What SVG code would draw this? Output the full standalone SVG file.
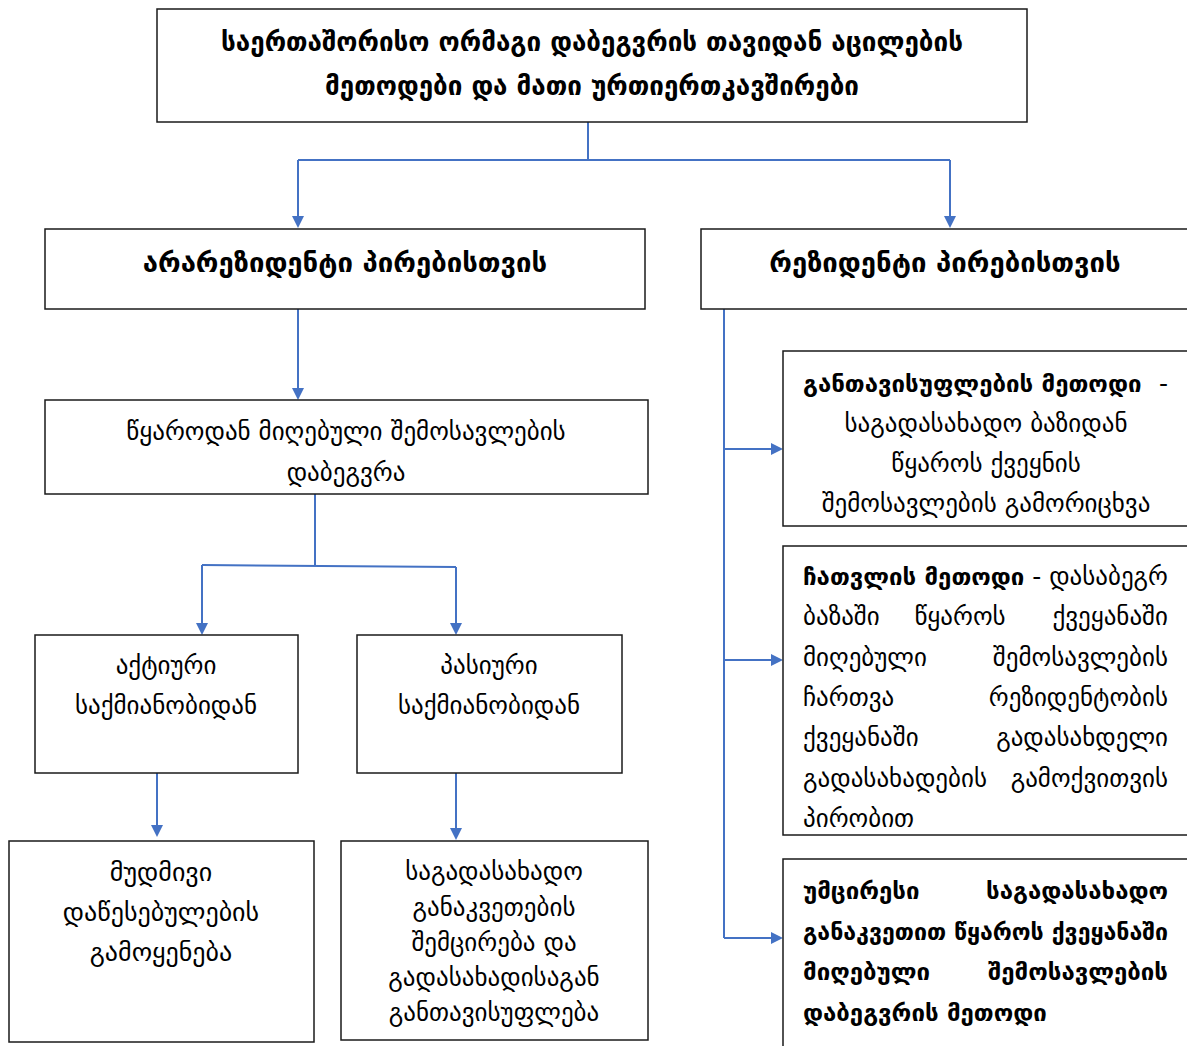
<svg xmlns="http://www.w3.org/2000/svg" width="1187" height="1046" viewBox="0 0 1187 1046">
<style>
.box{fill:#fff;stroke:#1a1a1a;stroke-width:1.5}
.t{font-family:"DejaVu Sans",sans-serif;font-size:25px;fill:#000}
.b{font-weight:bold}
.c{text-anchor:middle}
.r{text-anchor:end}
.h{font-size:27.5px}
.tt{font-size:26px}
.rb{font-size:24px}
.ln{fill:none;stroke:#4472C4;stroke-width:2}
</style>
<defs>
<marker id="ah" markerWidth="12" markerHeight="12" refX="10" refY="6" orient="auto" markerUnits="userSpaceOnUse">
<path d="M0,0 L12,6 L0,12 z" fill="#4472C4"/>
</marker>
</defs>
<rect width="1187" height="1046" fill="#fff"/>
<g id="connectors">
<polyline class="ln" points="588,122 588,160"/>
<polyline class="ln" points="298,160 950,160"/>
<polyline class="ln" points="298,160 298,226" marker-end="url(#ah)"/>
<polyline class="ln" points="950,160 950,226" marker-end="url(#ah)"/>
<polyline class="ln" points="298,309 298,398" marker-end="url(#ah)"/>
<polyline class="ln" points="315,494 315,565"/>
<polyline class="ln" points="202,565 456,567"/>
<polyline class="ln" points="202,565 202,633" marker-end="url(#ah)"/>
<polyline class="ln" points="456,567 456,633" marker-end="url(#ah)"/>
<polyline class="ln" points="157,773 157,835" marker-end="url(#ah)"/>
<polyline class="ln" points="456,773 456,838" marker-end="url(#ah)"/>
<polyline class="ln" points="724,309 724,938"/>
<polyline class="ln" points="724,449 781,449" marker-end="url(#ah)"/>
<polyline class="ln" points="724,660 781,660" marker-end="url(#ah)"/>
<polyline class="ln" points="724,938 781,938" marker-end="url(#ah)"/>
</g>
<g id="title">
<rect class="box" x="157" y="9" width="870" height="113"/>
<text class="t tt b c" x="592" y="51">საერთაშორისო ორმაგი დაბეგვრის თავიდან აცილების</text>
<text class="t tt b c" x="592" y="95">მეთოდები და მათი ურთიერთკავშირები</text>
</g>
<g id="nonresident">
<rect class="box" x="45" y="229" width="600" height="80"/>
<text class="t h b c" x="345" y="272">არარეზიდენტი პირებისთვის</text>
</g>
<g id="resident">
<rect class="box" x="701" y="229" width="490" height="80"/>
<text class="t h b c" x="945" y="272">რეზიდენტი პირებისთვის</text>
</g>
<g id="source">
<rect class="box" x="45" y="400" width="603" height="94"/>
<text class="t c" x="346" y="440">წყაროდან მიღებული შემოსავლების</text>
<text class="t c" x="346" y="481">დაბეგვრა</text>
</g>
<g id="active">
<rect class="box" x="35" y="635" width="263" height="138"/>
<text class="t c" x="166" y="674">აქტიური</text>
<text class="t c" x="166" y="714">საქმიანობიდან</text>
</g>
<g id="passive">
<rect class="box" x="357" y="635" width="265" height="138"/>
<text class="t c" x="489" y="674">პასიური</text>
<text class="t c" x="489" y="714">საქმიანობიდან</text>
</g>
<g id="permanent">
<rect class="box" x="9" y="841" width="305" height="201"/>
<text class="t tt c" x="161" y="881">მუდმივი</text>
<text class="t tt c" x="161" y="921">დაწესებულების</text>
<text class="t tt c" x="161" y="961">გამოყენება</text>
</g>
<g id="rates">
<rect class="box" x="341" y="841" width="307" height="199"/>
<text class="t c" x="494" y="880">საგადასახადო</text>
<text class="t c" x="494" y="916">განაკვეთების</text>
<text class="t c" x="494" y="951">შემცირება და</text>
<text class="t c" x="494" y="986">გადასახადისაგან</text>
<text class="t c" x="494" y="1021">განთავისუფლება</text>
</g>
<g id="exemption">
<rect class="box" x="783" y="351" width="410" height="175"/>
<text class="t rb b" x="803" y="392">განთავისუფლების მეთოდი</text>
<text class="t r" x="1168" y="392">-</text>
<text class="t c" x="986" y="432">საგადასახადო ბაზიდან</text>
<text class="t c" x="986" y="472">წყაროს ქვეყნის</text>
<text class="t c" x="986" y="512">შემოსავლების გამორიცხვა</text>
</g>
<g id="credit">
<rect class="box" x="783" y="546" width="410" height="289"/>
<text class="t" x="803" y="585" textLength="365" lengthAdjust="spacingAndGlyphs"><tspan class="b rb">ჩათვლის მეთოდი</tspan> - დასაბეგრ</text>
<text class="t" x="803" y="625">ბაზაში</text>
<text class="t c" x="960" y="625">წყაროს</text>
<text class="t r" x="1168" y="625">ქვეყანაში</text>
<text class="t" x="803" y="666">მიღებული</text>
<text class="t r" x="1168" y="666">შემოსავლების</text>
<text class="t" x="803" y="706">ჩართვა</text>
<text class="t r" x="1168" y="706">რეზიდენტობის</text>
<text class="t" x="803" y="746">ქვეყანაში</text>
<text class="t r" x="1168" y="746">გადასახდელი</text>
<text class="t" x="803" y="787">გადასახადების</text>
<text class="t r" x="1168" y="787">გამოქვითვის</text>
<text class="t" x="803" y="827">პირობით</text>
</g>
<g id="minimum">
<rect class="box" x="783" y="859" width="410" height="195"/>
<text class="t rb b" x="803" y="899">უმცირესი</text>
<text class="t rb b r" x="1168" y="899">საგადასახადო</text>
<text class="t rb b" x="803" y="940" textLength="365" lengthAdjust="spacingAndGlyphs">განაკვეთით წყაროს ქვეყანაში</text>
<text class="t rb b" x="803" y="980">მიღებული</text>
<text class="t rb b r" x="1168" y="980">შემოსავლების</text>
<text class="t rb b" x="803" y="1021">დაბეგვრის მეთოდი</text>
</g>
</svg>
